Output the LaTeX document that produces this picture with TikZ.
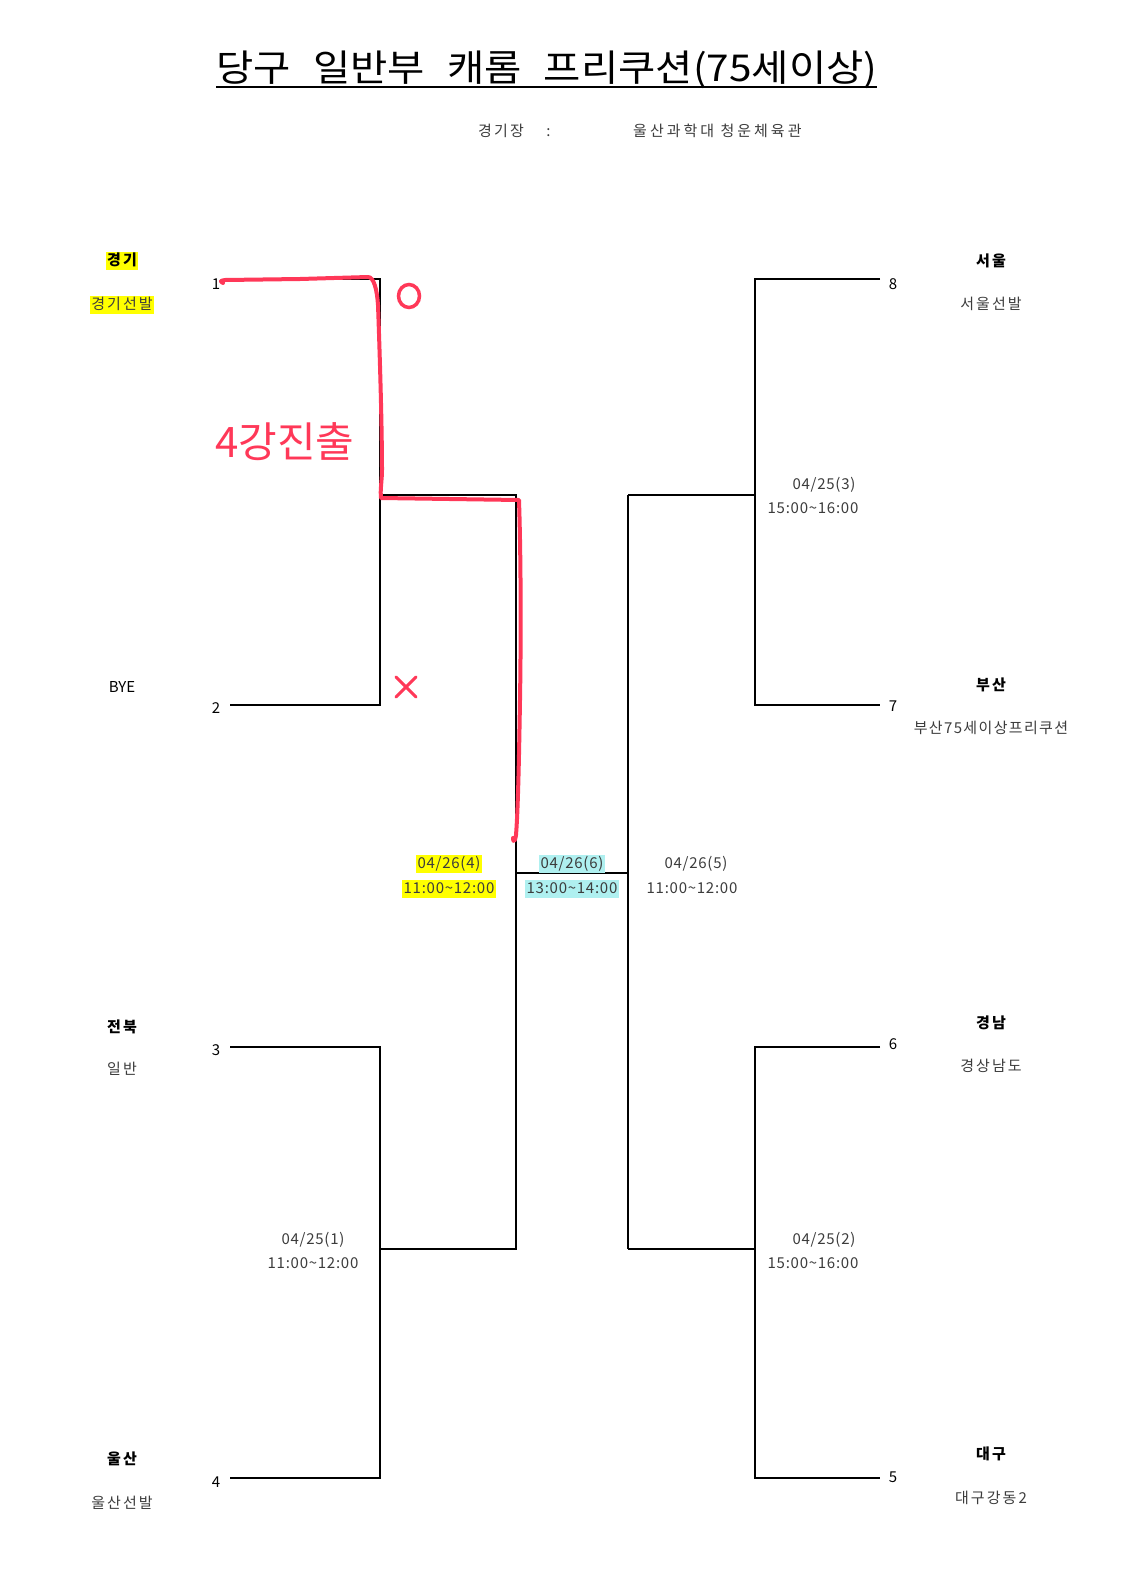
\documentclass[tikz,border=0pt]{standalone}
\usepackage{fontspec}
\usetikzlibrary{shapes.geometric}
\setmainfont{Noto Sans CJK KR}
\newfontfamily\krsp[LetterSpace=14]{Noto Sans CJK KR}
\newfontfamily\krsn[LetterSpace=9]{Noto Sans CJK KR}
\newfontfamily\krvn[LetterSpace=20]{Noto Sans CJK KR}
\newfontfamily\krdt[LetterSpace=5]{Noto Sans CJK KR}
\definecolor{hlY}{RGB}{255,255,0}
\definecolor{hlC}{RGB}{175,240,240}
\definecolor{pen}{RGB}{255,56,88}
\definecolor{txt}{RGB}{60,60,60}
\begin{document}
\begin{tikzpicture}[x=1pt,y=-1pt,
  br/.style={line width=1.3pt, black},
  team/.style={font=\fontsize{15}{17}\selectfont\krsp\bfseries, inner sep=1.5pt, text height=11.5pt, text depth=3.5pt, text=black},
  sub/.style={font=\fontsize{15}{17}\selectfont\krsp, inner sep=1.5pt, text height=11.5pt, text depth=3.5pt, text=txt},
  subn/.style={font=\fontsize{15}{17}\selectfont\krsn, inner sep=1.5pt, text height=11.5pt, text depth=3.5pt, text=txt},
  seed/.style={font=\fontsize{15}{17}\selectfont, inner sep=0pt, text=black},
  date/.style={font=\fontsize{15}{17}\selectfont\krdt, inner sep=1.5pt, text height=11.5pt, text depth=3.5pt, text=txt},
  redpen/.style={draw=pen, line width=4pt, line cap=round, line join=round}
]
\useasboundingbox (0,0) rectangle (1120,1585);
\fill[white] (0,0) rectangle (1120,1585);

% title
\node[anchor=base west, inner sep=0pt, font=\fontsize{37}{40}\selectfont] (title) at (216,81)
  {\scalebox{1.095}[1]{당구\hspace{0.55em}일반부\hspace{0.55em}캐롬\hspace{0.55em}프리쿠션(75세이상)}};
\draw[line width=2pt] (title.south west |- 0,87) -- (title.south east |- 0,87);
\node[anchor=base west, inner sep=0pt, font=\fontsize{15}{17}\selectfont\krsp, text=txt] (venueL) at (478,136) {경기장\hspace{1.5em}:};
\node[anchor=base west, inner sep=0pt, font=\fontsize{15}{17}\selectfont\krvn, text=txt] (venue) at (633,136) {울산과학대 청운체육관};

% bracket coordinates
\coordinate (p1) at (230,279); \coordinate (q1) at (380,279);
\coordinate (p2) at (230,705); \coordinate (q2) at (380,705);
\coordinate (p3) at (230,1047); \coordinate (q3) at (380,1047);
\coordinate (p4) at (230,1478); \coordinate (q4) at (380,1478);
\coordinate (m12) at (380,495); \coordinate (s1) at (516,495);
\coordinate (m34) at (380,1249); \coordinate (s2) at (516,1249);
\coordinate (fL) at (516,873); \coordinate (fR) at (628,873);
\coordinate (t1) at (628,495); \coordinate (n87) at (755,495);
\coordinate (t2) at (628,1249); \coordinate (n65) at (755,1249);
\coordinate (p8) at (880,279); \coordinate (r8) at (755,279);
\coordinate (p7) at (880,705); \coordinate (r7) at (755,705);
\coordinate (p6) at (880,1047); \coordinate (r6) at (755,1047);
\coordinate (p5) at (880,1478); \coordinate (r5) at (755,1478);

\draw[br] (p1) -- (q1) -- (q2) -- (p2);
\draw[br] (p3) -- (q3) -- (q4) -- (p4);
\draw[br] (m12) -- (s1) -- (s2) -- (m34);
\draw[br] (fL) -- (fR);
\draw[br] (t1) -- (t2);
\draw[br] (t1) -- (n87);
\draw[br] (t2) -- (n65);
\draw[br] (p8) -- (r8) -- (r7) -- (p7);
\draw[br] (p6) -- (r6) -- (r5) -- (p5);

% seeds
\node[seed] (n1) at (216,284) {1};
\node[seed] (n2) at (216,708) {2};
\node[seed] (n3) at (216,1050) {3};
\node[seed] (n4) at (216,1482) {4};
\node[seed] (n8) at (893,284) {8};
\node[seed] (n7) at (893,706) {7};
\node[seed] (n6) at (893,1044) {6};
\node[seed] (n5) at (893,1477) {5};

% left teams
\node[team, fill=hlY] (gg) at (122,261) {경기};
\node[sub, fill=hlY] (ggs) at (122,305) {경기선발};
\node[seed, font=\fontsize{15}{17}\selectfont] (bye) at (122,687) {BYE};
\node[team] (jb) at (122,1028) {전북};
\node[sub] (jbs) at (122,1070) {일반};
\node[team] (us) at (122,1460) {울산};
\node[sub] (uss) at (122,1504) {울산선발};
% right teams
\node[team] (se) at (991,262) {서울};
\node[sub] (ses) at (991,305) {서울선발};
\node[team] (bs) at (991,686) {부산};
\node[subn] (bss) at (991,729) {부산75세이상프리쿠션};
\node[team] (gn) at (991,1024) {경남};
\node[sub] (gns) at (991,1067) {경상남도};
\node[team] (dg) at (991,1455) {대구};
\node[sub] (dgs) at (991,1499) {대구강동2};

% dates
\node[date] (d3a) at (824,485) {04/25(3)};
\node[date] (d3b) at (813,509) {15:00\textasciitilde16:00};
\node[date] (d1a) at (313,1240) {04/25(1)};
\node[date] (d1b) at (313,1264) {11:00\textasciitilde12:00};
\node[date] (d2a) at (824,1240) {04/25(2)};
\node[date] (d2b) at (813,1264) {15:00\textasciitilde16:00};
\node[date, fill=hlY] (d4a) at (449,864) {04/26(4)};
\node[date, fill=hlY] (d4b) at (449,889) {11:00\textasciitilde12:00};
\node[date, fill=hlC] (d6a) at (572,864) {04/26(6)};
\node[date, fill=hlC] (d6b) at (572,889) {13:00\textasciitilde14:00};
\node[date] (d5a) at (696,864) {04/26(5)};
\node[date] (d5b) at (692,889) {11:00\textasciitilde12:00};

% red annotations
\draw[redpen] (223,283) .. controls (220,281) .. (225,280) -- (300,279) -- (368,277)
  .. controls (374,277) and (377,290) .. (378,305)
  .. controls (380,360) and (382,430) .. (382,470)
  .. controls (382,480) and (380,490) .. (381,498)
  -- (450,499) -- (519,500)
  .. controls (521,560) and (521,640) .. (520,700)
  .. controls (519,760) and (518,810) .. (516,835)
  .. controls (515,842) and (513,843) .. (513,838);
\node[draw=pen, line width=3.5pt, ellipse, minimum width=21pt, minimum height=23pt, inner sep=0pt] (circ) at (409,296) {};
\coordinate (x1) at (396,677); \coordinate (x2) at (416,697);
\coordinate (x3) at (416,677); \coordinate (x4) at (396,697);
\draw[draw=pen, line width=3pt, line cap=round] (x1) -- (x2);
\draw[draw=pen, line width=3pt, line cap=round] (x3) -- (x4);
\node[text=pen, font=\fontsize{42}{46}\selectfont, inner sep=0pt] (adv) at (285,442) {4강진출};
\end{tikzpicture}
\end{document}
